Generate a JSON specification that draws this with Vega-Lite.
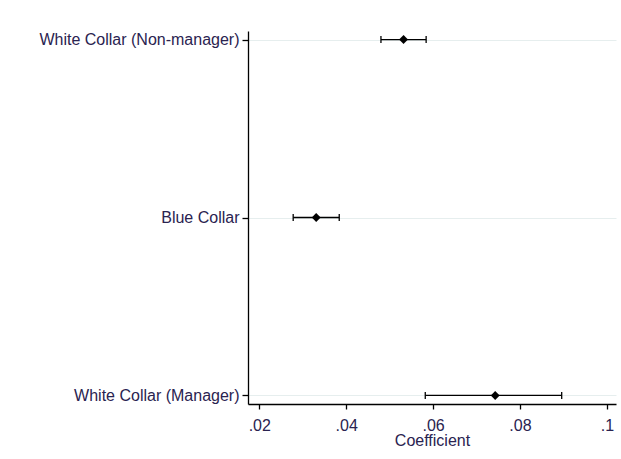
{
  "$schema": "https://vega.github.io/schema/vega-lite/v6.json",
  "width": 368,
  "height": 373,
  "autosize": {"type": "none"},
  "padding": {"left": 248, "top": 31, "right": 5, "bottom": 55},
  "background": "white",
  "config": {
    "view": {"stroke": null},
    "font": "Liberation Sans"
  },
  "data": {
    "values": [
      {"occupation": "White Collar (Non-manager)", "coef": 0.0532, "lo": 0.0480, "hi": 0.0584},
      {"occupation": "Blue Collar", "coef": 0.0331, "lo": 0.0278, "hi": 0.0384},
      {"occupation": "White Collar (Manager)", "coef": 0.0743, "lo": 0.0582, "hi": 0.0896}
    ]
  },
  "encoding": {
    "y": {
      "field": "occupation",
      "type": "nominal",
      "sort": ["White Collar (Non-manager)", "Blue Collar", "White Collar (Manager)"],
      "scale": {"type": "point", "padding": 0.048},
      "axis": {
        "title": null,
        "labelFontSize": 16,
        "labelColor": "#2a2350",
        "labelLimit": 0,
        "labelPadding": 3,
        "tickSize": 6,
        "tickColor": "black",
        "tickWidth": 1.3,
        "domainColor": "black",
        "domainWidth": 1.3,
        "grid": true,
        "gridColor": "#e6eeee",
        "gridWidth": 1
      }
    }
  },
  "layer": [
    {
      "mark": {"type": "rule", "color": "black", "strokeWidth": 1.3},
      "encoding": {
        "x": {
          "field": "lo",
          "type": "quantitative",
          "scale": {"domain": [0.0174, 0.1021], "nice": false, "zero": false},
          "axis": {
            "title": "Coefficient",
            "titleFontSize": 16,
            "titleFontWeight": "normal",
            "titleColor": "#2a2350",
            "titleBaseline": "alphabetic",
            "titleY": 41,
            "values": [0.02, 0.04, 0.06, 0.08, 0.1],
            "labelExpr": "substring(format(datum.value, '.2~f'), 1)",
            "labelFontSize": 16,
            "labelColor": "#2a2350",
            "labelPadding": 8,
            "labelFlush": false,
            "tickSize": 5,
            "tickColor": "black",
            "tickWidth": 1.3,
            "domainColor": "black",
            "domainWidth": 1.3,
            "grid": false
          }
        },
        "x2": {"field": "hi"}
      }
    },
    {
      "mark": {"type": "tick", "color": "black", "size": 7, "thickness": 1.3, "opacity": 1},
      "encoding": {"x": {"field": "lo", "type": "quantitative"}}
    },
    {
      "mark": {"type": "tick", "color": "black", "size": 7, "thickness": 1.3, "opacity": 1},
      "encoding": {"x": {"field": "hi", "type": "quantitative"}}
    },
    {
      "mark": {"type": "point", "shape": "diamond", "filled": true, "size": 80, "color": "black", "opacity": 1},
      "encoding": {"x": {"field": "coef", "type": "quantitative"}}
    }
  ]
}
